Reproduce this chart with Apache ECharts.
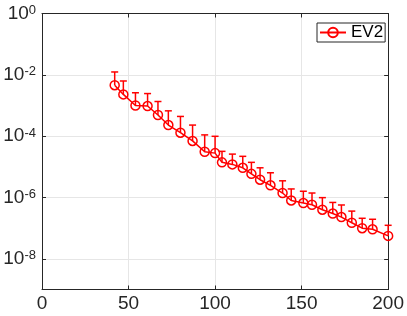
<!DOCTYPE html>
<html>
<head>
<meta charset="utf-8">
<script src="https://cdn.jsdelivr.net/npm/echarts@6/dist/echarts.min.js"></script>
<style>html,body{margin:0;padding:0;background:#fff}#c{width:407px;height:316px}</style>
</head>
<body>
<div id="c"></div>
<script>
var seriesName = 'EV2';
var xValues = [42, 47, 54, 61, 67, 73, 80, 87, 94, 100, 104, 110, 116, 121, 126, 132, 139, 144, 151, 156, 162, 168, 173, 179, 185, 191, 200];
var yValues = [4.6e-3, 2.3e-3, 1.0e-3, 9.6e-4, 4.9e-4, 2.3e-4, 1.3e-4, 7.0e-5, 3.1e-5, 2.8e-5, 1.4e-5, 1.2e-5, 9.3e-6, 5.9e-6, 3.8e-6, 2.5e-6, 1.4e-6, 8.0e-7, 6.6e-7, 5.8e-7, 4.0e-7, 3.0e-7, 2.3e-7, 1.5e-7, 1.0e-7, 9.2e-8, 5.6e-8];
var upperValues = [1.24e-2, 6.3e-3, 2.6e-3, 2.45e-3, 1.35e-3, 6.7e-4, 4.4e-4, 2.3e-4, 1.1e-4, 9.9e-5, 3.2e-5, 2.6e-5, 2.2e-5, 1.4e-5, 9.3e-6, 6.4e-6, 3.5e-6, 1.9e-6, 1.6e-6, 1.4e-6, 9.9e-7, 6.9e-7, 5.7e-7, 3.6e-7, 2.1e-7, 1.95e-7, 1.24e-7];
var xTicks = [0, 50, 100, 150, 200];
var yTicks = [1e-8, 1e-6, 1e-4, 1e-2, 1];

var FONT = 'Liberation Sans, Arial, Helvetica, sans-serif';
var AX = '#262626';
var RED = '#ff0000';

var lineData = xValues.map(function (x, i) { return [x, yValues[i]]; });
var errData = xValues.map(function (x, i) { return [x, yValues[i], upperValues[i]]; });

function yFmt(v) {
  var e = Math.round(Math.log10(v));
  return '{b|10}{s|' + e + '}';
}

var chart = echarts.init(document.getElementById('c'), null, {renderer: 'canvas'});
var axisCommonX = {
  type: 'value', min: xTicks[0], max: xTicks[xTicks.length - 1], interval: 50,
  axisLine: {show: true, onZero: false, lineStyle: {color: AX, width: 1}},
  axisTick: {show: true, inside: true, length: 4, lineStyle: {color: AX}}
};
chart.setOption({
  animation: false,
  backgroundColor: '#fff',
  grid: {left: 42, right: 15.5, top: 12.3, bottom: 26.5, containLabel: false},
  legend: {
    data: [seriesName], left: 317, top: 23,
    backgroundColor: '#fff', borderColor: AX, borderWidth: 1,
    padding: [1, 2, 1, 2], itemWidth: 26, itemHeight: 12,
    textStyle: {fontSize: 17, color: '#000', fontFamily: FONT}
  },
  xAxis: [
    Object.assign({}, axisCommonX, {
      position: 'bottom',
      axisLabel: {fontSize: 19, color: AX, margin: 5, fontFamily: FONT},
      splitLine: {show: true, lineStyle: {color: '#e6e6e6', width: 1}}
    }),
    Object.assign({}, axisCommonX, {
      position: 'top',
      axisLabel: {show: false},
      splitLine: {show: false}
    })
  ],
  yAxis: [
    {
      type: 'log', logBase: 10, min: 1e-9, max: 1, position: 'left',
      axisLine: {show: true, onZero: false, lineStyle: {color: AX, width: 1}},
      axisTick: {show: true, inside: true, length: 4, lineStyle: {color: AX}, customValues: yTicks},
      axisLabel: {
        customValues: yTicks, formatter: yFmt, margin: 6, fontFamily: FONT, color: AX,
        rich: {
          b: {fontSize: 19, color: AX, fontFamily: FONT, lineHeight: 19, padding: [4, 0, 0, 0], verticalAlign: 'bottom'},
          s: {fontSize: 13, color: AX, fontFamily: FONT, lineHeight: 13, verticalAlign: 'top'}
        }
      },
      splitLine: {show: true, lineStyle: {color: '#e6e6e6', width: 1}},
      minorTick: {show: false}
    },
    {
      type: 'log', logBase: 10, min: 1e-9, max: 1, position: 'right',
      axisLine: {show: true, onZero: false, lineStyle: {color: AX, width: 1}},
      axisTick: {show: true, inside: true, length: 4, lineStyle: {color: AX}, customValues: yTicks},
      axisLabel: {show: false},
      splitLine: {show: false}
    }
  ],
  series: [
    {
      name: 'errorbars', type: 'custom', xAxisIndex: 0, yAxisIndex: 0,
      data: errData, encode: {x: 0, y: [1, 2]}, z: 2,
      renderItem: function (params, api) {
        var p = api.coord([api.value(0), api.value(1)]);
        var q = api.coord([api.value(0), api.value(2)]);
        var st = {stroke: RED, lineWidth: 1.5, fill: null};
        return {type: 'group', children: [
          {type: 'line', shape: {x1: p[0], y1: p[1], x2: q[0], y2: q[1]}, style: st},
          {type: 'line', shape: {x1: q[0] - 3.5, y1: q[1], x2: q[0] + 3.5, y2: q[1]}, style: st}
        ]};
      }
    },
    {
      name: seriesName, type: 'line', xAxisIndex: 0, yAxisIndex: 0,
      data: lineData, z: 3,
      symbol: 'circle', symbolSize: 9, showAllSymbol: true,
      lineStyle: {color: RED, width: 1.5},
      itemStyle: {color: 'transparent', borderColor: RED, borderWidth: 1.5}
    }
  ]
});
</script>
</body>
</html>
